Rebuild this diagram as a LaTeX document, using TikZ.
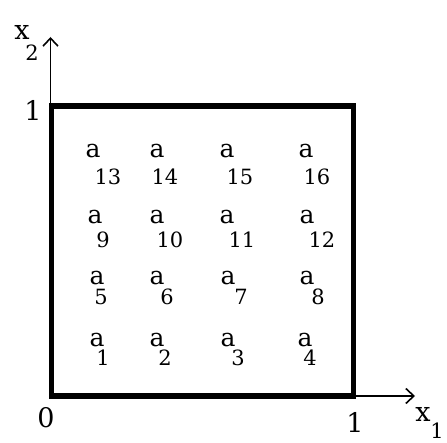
\documentclass[tikz,border=0pt]{standalone}
\usepackage{fontspec}
\setmainfont{DejaVu Serif}
\usetikzlibrary{arrows.meta,positioning}
\tikzset{
  axis/.style={-{Straight Barb[length=8pt,width=15pt]}, line width=1.6pt, draw=black},
  frame/.style={line width=5.5pt, draw=black},
  lbl/.style={inner sep=0pt, font=\fontsize{25}{25}\selectfont},
  sublbl/.style={inner sep=0pt, font=\fontsize{21}{21}\selectfont},
  axlbl/.style={inner sep=0pt, font=\fontsize{27}{27}\selectfont},
  axsub/.style={inner sep=0pt, font=\fontsize{21}{21}\selectfont}
}
\begin{document}
\begin{tikzpicture}[x=1pt,y=-1pt]
  \useasboundingbox (0,0) rectangle (447,443);
  % axes
  \coordinate (origin) at (50.5,396);
  \coordinate (xend) at (415,396);
  \coordinate (yend) at (50.5,37);
  \draw[axis] (origin) -- (xend);
  \draw[axis] (origin) -- (yend);
  % unit square
  \draw[frame] (51.5,106) rectangle (353.5,396);
  % axis labels
  \node[axlbl] (zero) at (46,418) {0};
  \node[axlbl] (xone) at (355,422) {1};
  \node[axlbl] (yone) at (33,110) {1};
  \node[axlbl] (xlab) at (423,414) {x};
  \node[axsub] (xsub) at (437,431) {1};
  \node[axlbl] (ylab) at (22,32) {x};
  \node[axsub] (ysub) at (32,53) {2};
  % cell labels a_n
  \foreach \ax/\ay/\sx/\sy/\n in {
      93/151/108/177/13, 157/151/165/177/14, 227/151/240/177/15, 306/151/317/177/16,
      95/217/103/240/9,  157/217/170/240/10, 227/217/242/240/11, 307/217/322/240/12,
      97/278/101/297/5,  157/278/167/297/6,  228/278/241/297/7,  307/278/318/297/8,
      97/340/103/358/1,  157/340/165/358/2,  228/340/238/358/3,  305/340/310/358/4} {
    \node[lbl] (a\n) at (\ax,\ay) {a};
    \node[sublbl] (s\n) at (\sx,\sy) {\n};
  }
\end{tikzpicture}
\end{document}
